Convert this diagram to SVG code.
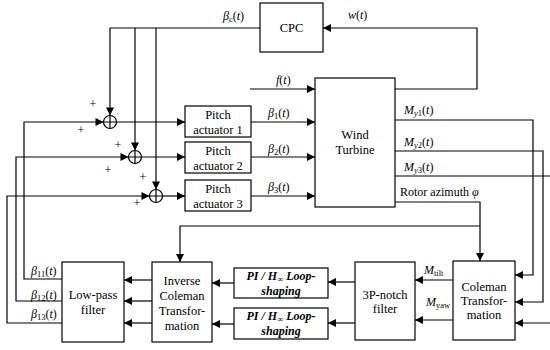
<svg xmlns="http://www.w3.org/2000/svg" width="550" height="350" viewBox="0 0 550 350" font-family="'Liberation Serif', 'Times New Roman', serif">
<style>
.box{fill:#fff;stroke:#000;stroke-width:1.2}
.ln{fill:none;stroke:#000;stroke-width:1.2}
.ar{marker-end:url(#ah)}
text{font-family:'Liberation Serif','Times New Roman',serif;font-size:12.5px;fill:#000}
.c{text-anchor:middle}
.lb{font-size:12px}
.i{font-style:italic}
.s{font-size:8.5px}
.bi{font-weight:bold;font-style:italic;font-size:12px}
</style>
<defs>
<marker id="ah" viewBox="0 0 10 10" refX="10" refY="5" markerWidth="9" markerHeight="8" markerUnits="userSpaceOnUse" orient="auto">
<path d="M0,0 L10,5 L0,10 z" fill="#000"/>
</marker>
</defs>
<rect width="550" height="350" fill="#fff"/>
<g id="connectors">
<path class="ln ar" d="M395,89 H477 V28 H323"/>
<path class="ln" d="M260,28 H110"/>
<path class="ln ar" d="M110,28 V115.5"/>
<path class="ln ar" d="M135,28 V150.5"/>
<path class="ln ar" d="M156,28 V189.5"/>
<path class="ln ar" d="M250,89 H315"/>
<path class="ln ar" d="M251,122 H315"/>
<path class="ln ar" d="M251,157 H315"/>
<path class="ln ar" d="M251,196 H315"/>
<path class="ln ar" d="M116.5,122 H185"/>
<path class="ln ar" d="M141.5,157 H185"/>
<path class="ln ar" d="M162.5,196 H185"/>
<path class="ln ar" d="M62,279 H24 V122 H103.5"/>
<path class="ln ar" d="M62,301 H16 V157 H128.5"/>
<path class="ln ar" d="M62,323 H7 V196 H149.5"/>
<path class="ln ar" d="M152,280 H124"/>
<path class="ln ar" d="M152,301 H124"/>
<path class="ln ar" d="M152,323 H124"/>
<path class="ln ar" d="M234,283 H212"/>
<path class="ln ar" d="M234,324 H212"/>
<path class="ln ar" d="M355,282 H328"/>
<path class="ln ar" d="M355,323 H328"/>
<path class="ln ar" d="M453,280 H415"/>
<path class="ln ar" d="M453,320 H415"/>
<path class="ln ar" d="M395,202 H480 V261"/>
<path class="ln ar" d="M480,226 H180 V262"/>
<path class="ln ar" d="M395,120 H533 V275 H515"/>
<path class="ln ar" d="M395,151 H543 V302 H515"/>
<path class="ln" d="M395,176 H550"/>
<path class="ln ar" d="M550,323 H515"/>
</g>
<g id="sum1"><circle class="box" cx="110" cy="122" r="6.5"/><path class="ln" d="M103.5,122 H116.5 M110,115.5 V128.5"/></g>
<g id="sum2"><circle class="box" cx="135" cy="157" r="6.5"/><path class="ln" d="M128.5,157 H141.5 M135,150.5 V163.5"/></g>
<g id="sum3"><circle class="box" cx="156" cy="196" r="6.5"/><path class="ln" d="M149.5,196 H162.5 M156,189.5 V202.5"/></g>
<g id="signs">
<text x="93" y="108" class="c lb">+</text><text x="81" y="134" class="c lb">+</text>
<text x="118" y="149" class="c lb">+</text><text x="108" y="174" class="c lb">+</text>
<text x="143" y="181" class="c lb">+</text><text x="137" y="207" class="c lb">+</text>
</g>
<g id="cpc"><rect class="box" x="260" y="3" width="63" height="49"/><text x="291.5" y="32" class="c">CPC</text></g>
<g id="turbine"><rect class="box" x="315" y="78" width="80" height="129"/><text x="355" y="139" class="c">Wind</text><text x="355" y="154" class="c">Turbine</text></g>
<g id="pa1"><rect class="box" x="185" y="106" width="66" height="31"/><text x="218" y="119" class="c">Pitch</text><text x="218" y="134" class="c">actuator 1</text></g>
<g id="pa2"><rect class="box" x="185" y="142" width="66" height="31"/><text x="218" y="155" class="c">Pitch</text><text x="218" y="170" class="c">actuator 2</text></g>
<g id="pa3"><rect class="box" x="185" y="180" width="66" height="31"/><text x="218" y="193" class="c">Pitch</text><text x="218" y="208" class="c">actuator 3</text></g>
<g id="lowpass"><rect class="box" x="62" y="262" width="62" height="80"/><text x="93" y="299" class="c">Low-pass</text><text x="93" y="314" class="c">filter</text></g>
<g id="invcoleman"><rect class="box" x="152" y="262" width="60" height="80"/><text x="182" y="285" class="c">Inverse</text><text x="182" y="300" class="c">Coleman</text><text x="182" y="315" class="c">Transfor-</text><text x="182" y="330" class="c">mation</text></g>
<g id="pi1"><rect class="box" x="234" y="268" width="94" height="30"/><text x="281" y="280" class="c bi">PI / H<tspan class="s" dy="1.5">∞</tspan><tspan dy="-1.5"> Loop-</tspan></text><text x="281" y="295" class="c bi">shaping</text></g>
<g id="pi2"><rect class="box" x="234" y="308" width="94" height="31"/><text x="281" y="320" class="c bi">PI / H<tspan class="s" dy="1.5">∞</tspan><tspan dy="-1.5"> Loop-</tspan></text><text x="281" y="335" class="c bi">shaping</text></g>
<g id="notch"><rect class="box" x="355" y="262" width="60" height="78"/><text x="385" y="299" class="c">3P-notch</text><text x="385" y="313" class="c">filter</text></g>
<g id="coleman"><rect class="box" x="453" y="261" width="62" height="79"/><text x="484" y="291" class="c">Coleman</text><text x="484" y="305" class="c">Transfor-</text><text x="484" y="319" class="c">mation</text></g>
<g id="labels">
<text x="223" y="20" class="lb"><tspan class="i">β</tspan><tspan class="s" dy="2">c</tspan><tspan dy="-2">(</tspan><tspan class="i">t</tspan>)</text>
<text x="348" y="19" class="lb"><tspan class="i">w</tspan>(<tspan class="i">t</tspan>)</text>
<text x="276" y="84" class="lb"><tspan class="i">f</tspan>(<tspan class="i">t</tspan>)</text>
<text x="268" y="117" class="lb"><tspan class="i">β</tspan><tspan class="s" dy="2">1</tspan><tspan dy="-2">(</tspan><tspan class="i">t</tspan>)</text>
<text x="268" y="153" class="lb"><tspan class="i">β</tspan><tspan class="s" dy="2">2</tspan><tspan dy="-2">(</tspan><tspan class="i">t</tspan>)</text>
<text x="268" y="191" class="lb"><tspan class="i">β</tspan><tspan class="s" dy="2">3</tspan><tspan dy="-2">(</tspan><tspan class="i">t</tspan>)</text>
<text x="404" y="114" class="lb"><tspan class="i">M</tspan><tspan class="s i" dy="2">y</tspan><tspan class="s">1</tspan><tspan dy="-2">(</tspan><tspan class="i">t</tspan>)</text>
<text x="404" y="146" class="lb"><tspan class="i">M</tspan><tspan class="s i" dy="2">y</tspan><tspan class="s">2</tspan><tspan dy="-2">(</tspan><tspan class="i">t</tspan>)</text>
<text x="404" y="171" class="lb"><tspan class="i">M</tspan><tspan class="s i" dy="2">y</tspan><tspan class="s">3</tspan><tspan dy="-2">(</tspan><tspan class="i">t</tspan>)</text>
<text x="400" y="196" class="lb">Rotor azimuth <tspan class="i">φ</tspan></text>
<text x="31" y="275" class="lb"><tspan class="i">β</tspan><tspan class="s" dy="2">11</tspan><tspan dy="-2">(</tspan><tspan class="i">t</tspan>)</text>
<text x="31" y="299" class="lb"><tspan class="i">β</tspan><tspan class="s" dy="2">12</tspan><tspan dy="-2">(</tspan><tspan class="i">t</tspan>)</text>
<text x="31" y="318" class="lb"><tspan class="i">β</tspan><tspan class="s" dy="2">13</tspan><tspan dy="-2">(</tspan><tspan class="i">t</tspan>)</text>
<text x="424" y="274" class="lb"><tspan class="i">M</tspan><tspan class="s" dy="2">tilt</tspan></text>
<text x="426" y="306" class="lb"><tspan class="i">M</tspan><tspan class="s" dy="2">yaw</tspan></text>
</g>
</svg>
